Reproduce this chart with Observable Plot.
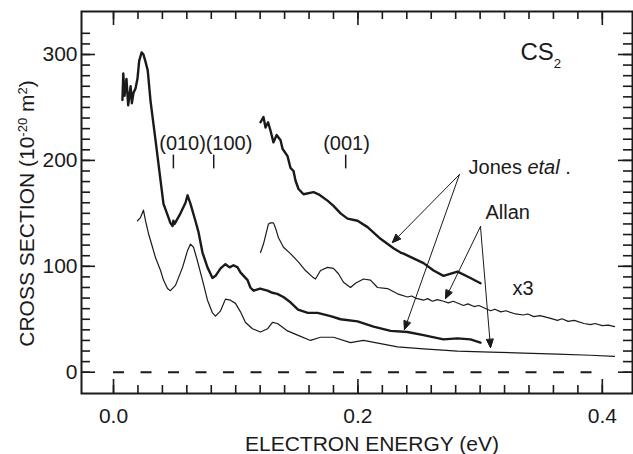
<!DOCTYPE html>
<html>
<head>
<meta charset="utf-8">
<script src="https://cdn.jsdelivr.net/npm/d3@7"></script>
<script src="https://cdn.jsdelivr.net/npm/@observablehq/plot@0.6"></script>
<style>
  html, body { margin: 0; padding: 0; background: #fff; }
</style>
</head>
<body>
<div id="chart"></div>
<script>
// ---- Data (energy eV, cross section 1e-20 m^2) ----
const jones = [[0.0073,257],[0.008,282],[0.009,261],[0.0106,277],[0.012,252],[0.014,270],[0.015,254],[0.0164,264],[0.018,268],[0.0196,277],[0.021,294],[0.023,302],[0.0245,300],[0.026,294],[0.028,285],[0.0303,256],[0.0344,219],[0.0385,181],[0.0409,159],[0.045,146],[0.0465,141],[0.0483,138],[0.049,143],[0.05,140],[0.0548,150],[0.0589,160],[0.0606,167],[0.063,159],[0.067,143],[0.0696,132],[0.0728,113],[0.0769,99],[0.081,89],[0.0835,91],[0.0876,98],[0.0916,102],[0.095,99],[0.0982,101],[0.1015,99],[0.104,94],[0.1097,87],[0.112,80],[0.1146,77],[0.12,79],[0.126,77],[0.13,75],[0.134,74],[0.139,71],[0.1448,66],[0.151,59],[0.159,56],[0.167,56],[0.1776,53],[0.1858,50],[0.1997,48],[0.2128,43],[0.2267,39],[0.2406,38],[0.2537,35],[0.27,31],[0.2815,32],[0.2921,31],[0.3003,28]];
const jonesX3 = [[0.1203,236],[0.1227,241],[0.1244,231],[0.1265,236],[0.1285,228],[0.1309,217],[0.1335,224],[0.1367,219],[0.1383,211],[0.1424,204],[0.1448,193],[0.1473,190],[0.1489,181],[0.1514,173],[0.1555,168],[0.1637,170],[0.1678,168],[0.1751,162],[0.18,157],[0.1858,150],[0.1915,145],[0.1997,143],[0.2079,137],[0.2185,126],[0.2291,117],[0.2349,113],[0.2373,112],[0.2537,103],[0.2619,96],[0.27,91],[0.2815,95],[0.2921,89],[0.3003,84]];
const allan = [[0.0196,143],[0.0221,146],[0.0245,153],[0.0262,143],[0.0286,131],[0.0319,118],[0.0344,108],[0.0385,96],[0.0409,87],[0.0442,79],[0.0466,77],[0.0507,82],[0.0565,99],[0.0606,115],[0.063,121],[0.0655,118],[0.0687,105],[0.0728,87],[0.0769,68],[0.081,56],[0.0835,53],[0.0876,58],[0.0916,69],[0.0957,68],[0.0998,65],[0.1039,57],[0.108,47],[0.1137,41],[0.1203,38],[0.126,41],[0.1301,47],[0.1342,46],[0.1424,39],[0.1506,35],[0.1612,30],[0.1694,33],[0.18,33],[0.1939,28],[0.2046,30],[0.2185,27],[0.2324,24],[0.2537,22],[0.2815,20],[0.3085,19],[0.3355,18],[0.3633,17],[0.3903,16],[0.41,15]];
const allanX3 = [[0.1203,113],[0.1227,121],[0.1268,140],[0.1285,141],[0.1309,141],[0.1326,136],[0.135,127],[0.1391,118],[0.1448,112],[0.1514,104],[0.1571,96],[0.1628,90],[0.1653,88],[0.1694,96],[0.1751,99],[0.18,98],[0.1841,93],[0.1882,85],[0.1939,80],[0.198,84],[0.2046,88],[0.2103,87],[0.216,80],[0.2242,79],[0.2324,74],[0.2406,71],[0.244,72],[0.247,70],[0.2537,68],[0.257,69.5],[0.261,67],[0.265,68.5],[0.27,67],[0.274,65.5],[0.278,67],[0.2864,63],[0.29,64.5],[0.295,62],[0.299,63],[0.3085,58],[0.312,59.5],[0.317,57],[0.321,58],[0.329,55],[0.3355,54],[0.339,55],[0.344,52.5],[0.349,53.5],[0.357,51],[0.3633,49],[0.367,50.5],[0.372,48],[0.377,49],[0.385,46],[0.3903,45],[0.394,46],[0.40,44],[0.405,44.5],[0.41,43]];

// ---- Ticks & labels ----
const xMajor = [0, 0.2, 0.4];
const xMinor = [0,0.02,0.04,0.06,0.08,0.1,0.12,0.14,0.16,0.18,0.2,0.22,0.24,0.26,0.28,0.3,0.32,0.34,0.36,0.38,0.4];
const yMajor = [0, 100, 200, 300];
const yMinor = [0,10,20,30,40,50,60,70,80,90,100,110,120,130,140,150,160,170,180,190,200,210,220,230,240,250,260,270,280,290,300,310,320];
const xTitle = "ELECTRON ENERGY (eV)";
const yTitle = "CROSS SECTION (10-20 m2)";

// ---- Annotations ----
const modeLabels = ["(010)", "(100)", "(001)"];
const modeTextE = [0.0565, 0.0945, 0.1907];
const modeTickE = [0.049, 0.082, 0.19];
const modeTextV = 216;
const modeTickV = [192, 205];
const notes = [
  {text: "CS2", e: 0.333, v: 302, size: 24},
  {text: "Jones etal .", e: 0.2905, v: 193, size: 20},
  {text: "Allan", e: 0.3044, v: 151, size: 20},
  {text: "x3", e: 0.3265, v: 79, size: 20}
];
const arrowsData = [
  {e1: 0.2831, v1: 186.7, e2: 0.2283, v2: 122.5},
  {e1: 0.2831, v1: 186.7, e2: 0.2381, v2: 40.4},
  {e1: 0.3003, v1: 137.6, e2: 0.2717, v2: 69.6},
  {e1: 0.3003, v1: 137.6, e2: 0.3085, v2: 23.3}
];

const W = 633, H = 454;
const mL = 81, mR = 1, mT = 11, mB = 61;
const FW = W - mL - mR, FH = H - mT - mB;
const ink = "#1a1a1a";

const plot = Plot.plot({
  width: W, height: H,
  marginLeft: mL, marginRight: mR, marginTop: mT, marginBottom: mB,
  style: {fontFamily: "'Liberation Sans', Arial, Helvetica, sans-serif", fontSize: "21px", color: ink, background: "#fff"},
  x: {domain: [-0.0262, 0.4247]},
  y: {domain: [-20.1, 340.6]},
  marks: [
    // frame ticks
    Plot.tickX(xMinor, {x: d => d, insetTop: FH - 8, strokeWidth: 1.6, stroke: ink}),
    Plot.tickX(xMajor, {x: d => d, insetTop: FH - 14, strokeWidth: 1.6, stroke: ink}),
    Plot.tickX(xMinor, {x: d => d, insetBottom: FH - 8, strokeWidth: 1.6, stroke: ink}),
    Plot.tickX(xMajor, {x: d => d, insetBottom: FH - 14, strokeWidth: 1.6, stroke: ink}),
    Plot.tickY(yMinor, {y: d => d, insetRight: FW - 9, strokeWidth: 1.6, stroke: ink}),
    Plot.tickY(yMajor, {y: d => d, insetRight: FW - 14, strokeWidth: 1.6, stroke: ink}),
    Plot.tickY(yMinor, {y: d => d, insetLeft: FW - 9, strokeWidth: 1.6, stroke: ink}),
    Plot.tickY(yMajor, {y: d => d, insetLeft: FW - 14, strokeWidth: 1.6, stroke: ink}),
    Plot.frame({stroke: ink, strokeWidth: 2}),
    Plot.axisX({ticks: xMajor, tickFormat: d3.format(".1f"), tickSize: 0, tickPadding: 15, label: null, fill: ink}),
    Plot.axisY({ticks: yMajor, tickSize: 0, tickPadding: 4, label: null, fill: ink}),
    Plot.text([xTitle], {text: d => d, frameAnchor: "bottom", dx: 15, dy: 57, lineAnchor: "bottom", fill: ink}),
    Plot.text([yTitle], {text: d => d, frameAnchor: "left", textAnchor: "middle", rotate: -90, dx: -48, dy: 11, lineAnchor: "bottom", fill: ink}),
    // zero line
    Plot.ruleY([0], {x1: xMajor[0], x2: xMajor[2], strokeDasharray: "11,16.5", strokeWidth: 2, stroke: ink}),
    // curves
    Plot.line(allan, {x: d => d[0], y: d => d[1], stroke: ink, strokeWidth: 1.2}),
    Plot.line(allanX3, {x: d => d[0], y: d => d[1], stroke: ink, strokeWidth: 1.2}),
    Plot.line(jones, {x: d => d[0], y: d => d[1], stroke: ink, strokeWidth: 2.4}),
    Plot.line(jonesX3, {x: d => d[0], y: d => d[1], stroke: ink, strokeWidth: 2.4}),
    // mode marks
    Plot.ruleX(modeTickE, {x: d => d, y1: modeTickV[0], y2: modeTickV[1], stroke: ink, strokeWidth: 1.5}),
    Plot.text(modeLabels, {x: (d, i) => modeTextE[i], y: modeTextV, text: d => d, fontSize: 20, fill: ink}),
    // labels
    Plot.text(notes, {x: "e", y: "v", text: "text", fontSize: d => d.size, textAnchor: "start", fill: ink}),
    Plot.arrow(arrowsData, {x1: "e1", y1: "v1", x2: "e2", y2: "v2", stroke: ink, strokeWidth: 1, headLength: 13, headAngle: 44})
  ]
});

// rich text touches (superscripts, subscript, italic)
d3.select(plot).selectAll("text").each(function() {
  const t = this.textContent;
  const s = d3.select(this);
  if (t === yTitle) {
    s.text(null);
    s.append("tspan").text("CROSS SECTION (10");
    s.append("tspan").attr("baseline-shift", "super").attr("font-size", "0.62em").text("-20");
    s.append("tspan").text(" m");
    s.append("tspan").attr("baseline-shift", "super").attr("font-size", "0.62em").text("2");
    s.append("tspan").text(")");
  } else if (t === "CS2") {
    s.text(null);
    s.append("tspan").text("CS");
    s.append("tspan").attr("baseline-shift", "sub").attr("font-size", "0.55em").text("2");
  } else if (t === "Jones etal .") {
    s.text(null);
    s.append("tspan").text("Jones ");
    s.append("tspan").attr("font-style", "italic").text("etal");
    s.append("tspan").text(" .");
  }
});
// solid arrowheads: close the head sub-path that Plot.arrow drew
d3.select(plot).selectAll('g[aria-label="arrow"] path').each(function() {
  const d = this.getAttribute("d") || "";
  const n = (d.match(/-?\d*\.?\d+(?:e[-+]?\d+)?/gi) || []).map(Number);
  if (n.length >= 6) {
    const p = n.slice(-6);
    d3.select(this.parentNode).append("path")
      .attr("d", `M${p[0]},${p[1]}L${p[2]},${p[3]}L${p[4]},${p[5]}Z`)
      .attr("fill", ink).attr("stroke", ink).attr("stroke-width", 1)
      .attr("stroke-linejoin", "miter");
  }
});

document.getElementById("chart").appendChild(plot);
</script>
</body>
</html>
